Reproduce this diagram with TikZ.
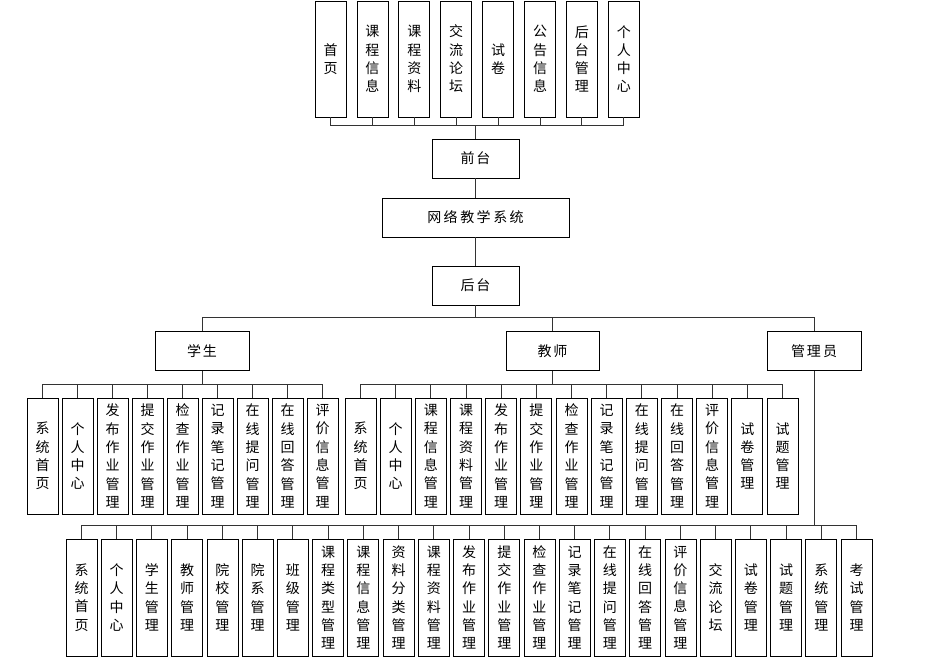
\documentclass[tikz,border=0pt]{standalone}
\usepackage{fontspec}
\newfontfamily\cjk{Noto Sans CJK SC}
\begin{document}
\begin{tikzpicture}[x=1pt,y=-1pt,
  vbox/.style={draw=black,line width=0.8pt,minimum width=31pt,inner sep=0pt,align=center,
    font=\cjk\fontsize{14}{18.3}\selectfont},
  hbox/.style={draw=black,line width=0.8pt,minimum height=39pt,inner sep=0pt,
    font=\cjk\fontsize{14}{16}\selectfont},
  conn/.style={draw=black!80,line width=1pt}]
\useasboundingbox (0,0) rectangle (939,662);

% top row
\foreach \t [count=\i from 0] in {{首\\页},{课\\程\\信\\息},{课\\程\\资\\料},{交\\流\\论\\坛},{试\\卷},{公\\告\\信\\息},{后\\台\\管\\理},{个\\人\\中\\心}}
  \node[vbox,minimum height=116pt] (t\i) at ({330.5+\i*41.9},59) {\t};

\node[hbox,minimum width=87pt] (qt) at (475.5,158.5) {前\hspace{2pt}台};
\node[hbox,minimum width=187pt] (sys) at (475.5,217.5) {网\hspace{2.5pt}络\hspace{2.5pt}教\hspace{2.5pt}学\hspace{2.5pt}系\hspace{2.5pt}统};
\node[hbox,minimum width=87pt] (ht) at (475.5,285.5) {后\hspace{2pt}台};

\node[hbox,minimum width=94pt] (stu) at (202,351) {学\hspace{2pt}生};
\node[hbox,minimum width=93pt] (tea) at (552.5,351) {教\hspace{2pt}师};
\node[hbox,minimum width=94pt] (adm) at (814,351) {管\hspace{2pt}理\hspace{2pt}员};

\coordinate (bus1) at (475.5,125);
\coordinate (bus2) at (475.5,317);
\coordinate (bus3) at (202,384);
\coordinate (bus4) at (552.5,384);
\coordinate (bus5) at (814,525);

\foreach \i in {0,...,7} \draw[conn] (t\i.south) |- (bus1);
\draw[conn] (bus1) -- (qt.north);
\draw[conn] (qt.south) -- (sys.north);
\draw[conn] (sys.south) -- (ht.north);
\draw[conn] (ht.south) -- (bus2);
\draw[conn] (bus2) -| (stu.north);
\draw[conn] (bus2) -| (tea.north);
\draw[conn] (bus2) -| (adm.north);

% student children
\foreach \t [count=\i from 0] in {{系\\统\\首\\页},{个\\人\\中\\心},{发\\布\\作\\业\\管\\理},{提\\交\\作\\业\\管\\理},{检\\查\\作\\业\\管\\理},{记\\录\\笔\\记\\管\\理},{在\\线\\提\\问\\管\\理},{在\\线\\回\\答\\管\\理},{评\\价\\信\\息\\管\\理}}
  {\node[vbox,minimum height=116pt] (s\i) at ({42.5+\i*35},456) {\t};
   \draw[conn] (bus3) -| (s\i.north);}
\draw[conn] (stu.south) -- (bus3);

% teacher children
\foreach \t [count=\i from 0] in {{系\\统\\首\\页},{个\\人\\中\\心},{课\\程\\信\\息\\管\\理},{课\\程\\资\\料\\管\\理},{发\\布\\作\\业\\管\\理},{提\\交\\作\\业\\管\\理},{检\\查\\作\\业\\管\\理},{记\\录\\笔\\记\\管\\理},{在\\线\\提\\问\\管\\理},{在\\线\\回\\答\\管\\理},{评\\价\\信\\息\\管\\理},{试\\卷\\管\\理},{试\\题\\管\\理}}
  {\node[vbox,minimum height=116pt] (e\i) at ({360.5+\i*35.17},456) {\t};
   \draw[conn] (bus4) -| (e\i.north);}
\draw[conn] (tea.south) -- (bus4);

% admin children
\foreach \t [count=\i from 0] in {{系\\统\\首\\页},{个\\人\\中\\心},{学\\生\\管\\理},{教\\师\\管\\理},{院\\校\\管\\理},{院\\系\\管\\理},{班\\级\\管\\理},{课\\程\\类\\型\\管\\理},{课\\程\\信\\息\\管\\理},{资\\料\\分\\类\\管\\理},{课\\程\\资\\料\\管\\理},{发\\布\\作\\业\\管\\理},{提\\交\\作\\业\\管\\理},{检\\查\\作\\业\\管\\理},{记\\录\\笔\\记\\管\\理},{在\\线\\提\\问\\管\\理},{在\\线\\回\\答\\管\\理},{评\\价\\信\\息\\管\\理},{交\\流\\论\\坛},{试\\卷\\管\\理},{试\\题\\管\\理},{系\\统\\管\\理},{考\\试\\管\\理}}
  {\node[vbox,minimum height=117pt] (a\i) at ({81.5+\i*35.23},597.5) {\t};
   \draw[conn] (bus5) -| (a\i.north);}
\draw[conn] (adm.south) -- (bus5);
\end{tikzpicture}
\end{document}
